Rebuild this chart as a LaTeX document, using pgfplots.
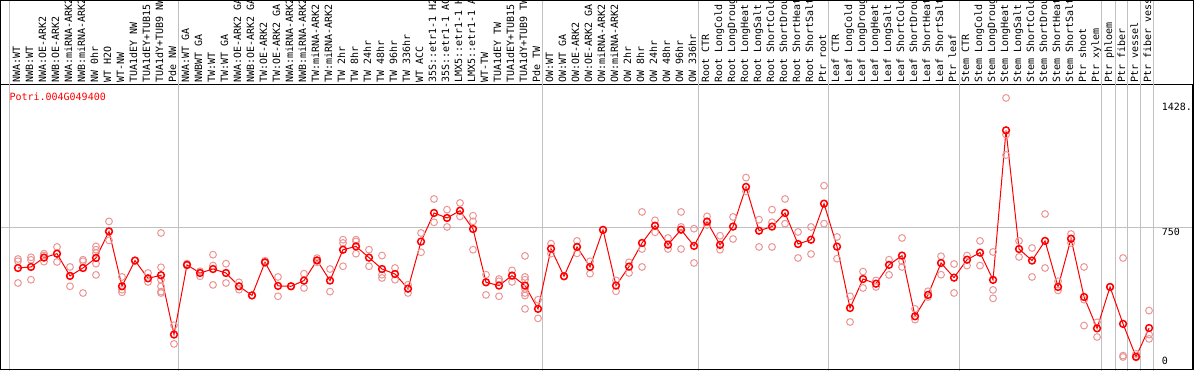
\documentclass[border=0pt]{standalone}
\usepackage{fontspec}
\usepackage{pgfplots}
\pgfplotsset{compat=1.18}
\newfontfamily\monof{DejaVu Sans Mono}
\newcommand\lab{\monof\fontsize{10}{10}\selectfont}
\definecolor{sepg}{RGB}{192,192,192}
\definecolor{rep}{RGB}{236,150,150}
\definecolor{mred}{RGB}{255,0,0}

\pgfplotstableread{
x y
0 518
1 524
2 578
3 601
4 472
5 518
6 576
7 730
8 412
9 561
10 458
11 476
12 132
13 536
14 489
15 512
16 489
17 412
18 359
19 551
20 414
21 412
22 445
23 562
24 445
25 624
26 643
27 578
28 512
29 483
30 398
31 671
32 837
33 808
34 850
35 744
36 435
37 416
38 474
39 416
40 281
41 630
42 470
43 640
44 524
45 739
46 416
47 526
48 663
49 763
50 653
51 740
52 646
53 787
54 652
55 758
56 988
57 734
58 758
59 837
60 657
61 682
62 891
63 642
64 286
65 454
66 427
67 536
68 590
69 238
70 362
71 547
72 462
73 566
74 607
75 449
76 1316
77 628
78 561
79 675
80 408
81 688
82 350
83 168
84 408
85 194
86 3
87 170
}\means

\pgfplotstableread{
x y
0 570
0 557
0 431
1 580
1 565
1 450
2 601
2 590
2 555
3 640
3 601
3 553
4 524
4 472
4 412
5 566
5 557
5 373
6 643
6 624
6 605
6 543
6 478
7 788
7 730
7 678
8 466
8 392
8 377
9 561
10 489
10 437
11 721
11 522
11 450
11 412
11 381
11 373
12 186
12 78
13 543
13 532
14 499
14 470
15 595
15 532
15 420
16 543
16 431
17 435
17 392
18 359
19 560
19 547
20 466
20 354
21 412
22 485
22 402
23 575
23 551
24 512
24 381
25 682
25 663
25 528
26 682
26 672
26 601
27 624
27 528
28 590
28 479
28 460
29 518
29 450
30 421
30 373
31 721
31 609
32 918
32 783
33 856
33 756
34 895
34 817
35 821
35 788
35 624
36 479
36 362
37 454
37 441
37 354
38 504
38 437
39 588
39 466
39 450
39 397
39 373
39 358
39 281
40 334
40 226
41 659
41 601
42 470
43 675
43 603
44 557
44 485
45 739
46 446
46 383
47 551
47 489
48 843
48 628
48 524
49 794
49 725
50 692
50 628
51 843
51 756
51 628
52 746
52 547
53 817
53 768
54 705
54 624
55 814
55 686
56 1042
56 962
57 798
57 640
58 856
58 783
58 640
59 918
59 775
60 727
60 576
61 756
61 599
62 995
62 775
63 698
63 572
64 354
64 205
65 497
65 402
66 446
66 408
67 566
67 478
68 692
68 557
68 524
69 281
69 219
70 383
70 350
71 586
71 479
72 541
72 373
73 590
73 532
74 675
74 532
75 611
75 391
75 342
76 1504
76 1291
76 1173
77 675
77 582
78 634
78 466
79 831
79 518
80 441
80 388
81 715
81 663
82 524
82 334
82 184
83 203
83 118
84 408
85 576
85 10
85 2
86 20
86 5
86 0
87 271
87 132
87 107
}\reps

\begin{document}
\begin{tikzpicture}[x=1pt,y=1pt]
\useasboundingbox (0,0) rectangle (1194,370);
\clip (0,0) rectangle (1194,370);
\fill[white] (0,0) rectangle (1194,370);
\begin{axis}[
  at={(1.5,0.5)}, anchor=south west,
  scale only axis, width=1192pt, height=284.5pt,
  xmin=-1.369, xmax=90.32, ymin=-68.4, ymax=1580.9,
  clip=false,
  axis line style={black, line width=1pt},
  tick style={draw=none},
  xtick={0,...,87},
  xticklabels={NWA:WT, NWB:WT, NWA:OE-ARK2, NWB:OE-ARK2, NWA:miRNA-ARK2, NWB:miRNA-ARK2, NW 0hr, WT H2O, WT-NW, TUA1dEY NW, TUA1dEY+TUB15 NW, TUA1dY+TUB9 NW, Pde NW, NWA:WT GA, NWBWT GA, TW:WT, TW:WT GA, NWA:OE-ARK2 GA, NWB:OE-ARK2 GA, TW:OE-ARK2, TW:OE-ARK2 GA, NWA:miRNA-ARK2, NWB:miRNA-ARK2, TW:miRNA-ARK2, TW:miRNA-ARK2, TW 2hr, TW 8hr, TW 24hr, TW 48hr, TW 96hr, TW 336hr, WT ACC, 35S::etr1-1 H2O, 35S::etr1-1 ACC, LMX5::etr1-1 H2O, LMX5::etr1-1 ACC, WT-TW, TUA1dEY TW, TUA1dEY+TUB15 TW, TUA1dY+TUB9 TW, Pde TW, OW:WT, OW:WT GA, OW:OE-ARK2, OW:OE-ARK2 GA, OW:miRNA-ARK2, OW:miRNA-ARK2, OW 2hr, OW 8hr, OW 24hr, OW 48hr, OW 96hr, OW 336hr, Root CTR, Root LongCold, Root LongDrought, Root LongHeat, Root LongSalt, Root ShortCold, Root ShortDrought, Root ShortHeat, Root ShortSalt, Ptr root, Leaf CTR, Leaf LongCold, Leaf LongDrought, Leaf LongHeat, Leaf LongSalt, Leaf ShortCold, Leaf ShortDrought, Leaf ShortHeat, Leaf ShortSalt, Ptr leaf, Stem CTR, Stem LongCold, Stem LongDrought, Stem LongHeat, Stem LongSalt, Stem ShortCold, Stem ShortDrought, Stem ShortHeat, Stem ShortSalt, Ptr shoot, Ptr xylem, Ptr phloem, Ptr fiber, Ptr vessel, Ptr fiber vessel},
  xticklabel pos=upper,
  xticklabel shift=2pt,
  xticklabel style={rotate=90, anchor=mid west, inner sep=0pt, font=\lab},
  ytick={0,750,1475},
  yticklabels={0,750,1428.},
  yticklabel pos=upper,
  yticklabel style={anchor=north west, inner sep=0pt, xshift=-30.5pt, font=\lab},
]
\pgfplotsinvokeforeach{-0.64,12.38,40.38,52.38,62.38,72.42,83.38,84.4,85.35,86.35,87.35}{
  \draw[sepg, line width=1pt] (axis cs:#1,-100) -- (axis cs:#1,2200);
}
\draw[sepg, line width=1pt] (axis cs:-1.369,750) -- (axis cs:90.32,750);
\addplot[only marks, mark=o, mark size=3.4pt, mark options={draw=rep, line width=1pt}] table[x=x,y=y] {\reps};
\addplot[mred, line width=1pt, mark=o, mark size=3.4pt, mark options={draw=mred, line width=1.5pt}] table[x=x,y=y] {\means};
\end{axis}
\draw[black, line width=1pt] (0.5,0.5) rectangle (1193.5,369.5);
\node[anchor=west, text=mred, font=\lab, inner sep=0pt] at (9.3,273.3) {Potri.004G049400};
\end{tikzpicture}
\end{document}
